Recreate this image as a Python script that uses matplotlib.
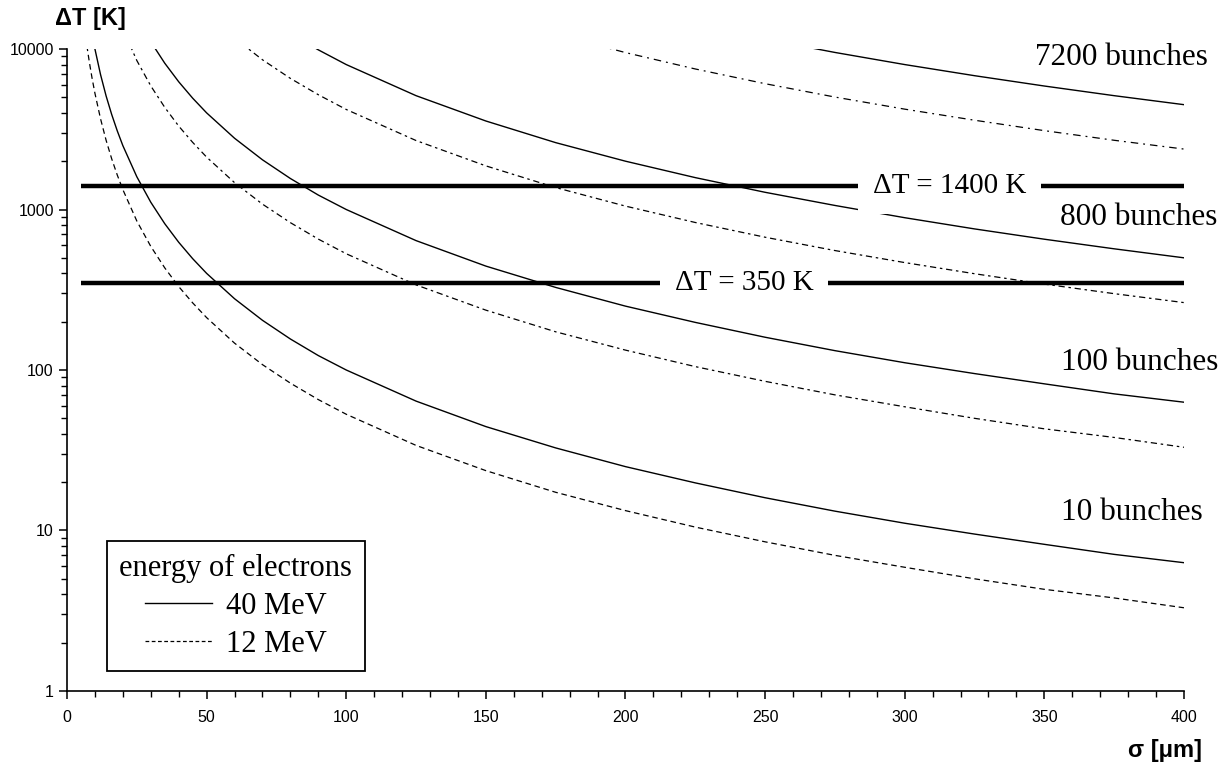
"""Temperature rise vs. beam size for different bunch trains (40 / 12 MeV)."""
import numpy as np
import matplotlib
matplotlib.use("Agg")
import matplotlib.pyplot as plt
from matplotlib.lines import Line2D
from matplotlib.ticker import MultipleLocator, LogLocator, NullFormatter

nan = float("nan")

# beam size sigma [um], shared grid for all curves
sigma_um = [5, 6, 7, 8, 9, 10, 12, 14, 16, 18, 20, 25, 30, 35, 40, 45, 50,
            60, 70, 80, 90, 100, 125, 150, 175, 200, 225, 250, 275, 300,
            325, 350, 375, 400]

# delta T [K], 40 MeV electrons
dt40_10 = [40000, 27800, 20400, 15600, 12300, 10000, 6940, 5100, 3910, 3090,
           2500, 1600, 1110, 816, 625, 494, 400, 278, 204, 156, 123, 100,
           64, 44.4, 32.7, 25, 19.8, 16, 13.2, 11.1, 9.5, 8.2, 7.1, 6.3]
dt40_100 = [nan, nan, nan, nan, nan, nan, nan, nan, 39100, 30900,
            25000, 16000, 11100, 8160, 6250, 4940, 4000, 2780, 2040, 1560,
            1230, 1000, 640, 444, 327, 250, 198, 160, 132, 111, 95, 82, 71, 63]
dt40_800 = [nan, nan, nan, nan, nan, nan, nan, nan, nan, nan,
            nan, nan, nan, nan, 50000, 39500, 32000, 22200, 16300, 12500,
            9880, 8000, 5120, 3560, 2610, 2000, 1580, 1280, 1060, 889,
            757, 653, 569, 500]
dt40_7200 = [nan, nan, nan, nan, nan, nan, nan, nan, nan, nan,
             nan, nan, nan, nan, nan, nan, nan, nan, nan, nan,
             nan, nan, nan, nan, nan, 18000, 14200, 11520, 9520, 8000,
             6820, 5880, 5120, 4500]

# delta T [K], 12 MeV electrons
dt12_10 = [21200, 14700, 10800, 8280, 6540, 5300, 3680, 2700, 2070, 1640,
           1330, 848, 589, 433, 331, 262, 212, 147, 108, 82.8, 65.4, 53,
           33.9, 23.6, 17.3, 13.3, 10.5, 8.5, 7.0, 5.9, 5.0, 4.3, 3.8, 3.3]
dt12_100 = [nan, nan, nan, nan, nan, nan, 36800, 27000, 20700, 16400,
            13300, 8480, 5890, 4330, 3310, 2620, 2120, 1470, 1080, 828,
            654, 530, 339, 236, 173, 133, 105, 85, 70, 59, 50, 43, 38, 33]
dt12_800 = [nan, nan, nan, nan, nan, nan, nan, nan, nan, nan,
            nan, nan, 46700, 34300, 26300, 20700, 16800, 11700, 8570, 6560,
            5190, 4200, 2690, 1870, 1370, 1050, 830, 672, 555, 467,
            398, 343, 299, 263]
dt12_7200 = [nan, nan, nan, nan, nan, nan, nan, nan, nan, nan,
             nan, nan, nan, nan, nan, nan, nan, nan, nan, nan,
             nan, nan, nan, 16900, 12400, 9500, 7510, 6080, 5020, 4220,
             3600, 3100, 2700, 2380]

limits_K = [1400, 350]
limit_labels = ["\u0394T = 1400 K", "\u0394T = 350 K"]
limit_label_x = [316, 242.5]

bunch_labels = ["7200 bunches", "800 bunches", "100 bunches", "10 bunches"]
bunch_label_x = [346.5, 355.5, 356, 356]
bunch_label_y = [8900, 898, 112, 12.9]

serif = "Liberation Serif"
sans = "Liberation Sans"

fig = plt.figure(figsize=(12.25, 7.67), dpi=100)
ax = fig.add_axes([0.0547, 0.0991, 0.9118, 0.8370])

x = np.array(sigma_um, dtype=float)
for y in (dt40_10, dt40_100, dt40_800, dt40_7200):
    ax.plot(x, np.array(y, dtype=float), color="black", lw=1.0)
ax.plot(x, np.array(dt12_10, dtype=float), color="black", lw=0.9,
        linestyle=(0, (4.5, 3)))
for y in (dt12_100, dt12_800):
    ax.plot(x, np.array(y, dtype=float), color="black", lw=0.9,
            linestyle=(0, (5, 3, 2, 3)))
ax.plot(x, np.array(dt12_7200, dtype=float), color="black", lw=0.9,
        linestyle=(0, (6, 4, 1.5, 4)))

# temperature limits
for lim, lab, lx in zip(limits_K, limit_labels, limit_label_x):
    ax.hlines(lim, 5, 400, color="black", lw=3.2, zorder=3)
    ax.text(lx, lim, lab, family=serif, fontsize=21, ha="center", va="center",
            zorder=4, bbox=dict(boxstyle="square,pad=0.5", fc="white", ec="none"))

for lab, lx, ly in zip(bunch_labels, bunch_label_x, bunch_label_y):
    ax.text(lx, ly, lab, family=serif, fontsize=22.5, ha="left", va="center",
            clip_on=False, zorder=4)

ax.set_yscale("log")
ax.set_xlim(0, 400)
ax.set_ylim(1, 10000)
ax.xaxis.set_major_locator(MultipleLocator(50))
ax.xaxis.set_minor_locator(MultipleLocator(10))
ax.yaxis.set_minor_locator(LogLocator(base=10, subs=np.arange(2, 10)))
ax.yaxis.set_minor_formatter(NullFormatter())
ax.set_yticks([1, 10, 100, 1000, 10000])
ax.set_yticklabels(["1", "10", "100", "1000", "10000"])

for s in ("top", "right"):
    ax.spines[s].set_visible(False)
for s in ("left", "bottom"):
    ax.spines[s].set_linewidth(1.2)
ax.tick_params(which="major", length=6, width=1.1, labelsize=11.5)
ax.tick_params(which="minor", length=4, width=1.0)
for t in ax.get_xticklabels() + ax.get_yticklabels():
    t.set_family(sans)
ax.tick_params(axis="x", pad=8)

fig.text(0.0735, 0.9765, "\u0394T [K]", family=sans, fontsize=17,
         fontweight="bold", ha="center", va="center")
fig.text(0.951, 0.022, "\u03c3 [\u03bcm]", family=sans, fontsize=17,
         fontweight="bold", ha="center", va="center")

handles = [Line2D([], [], color="black", lw=1.0),
           Line2D([], [], color="black", lw=0.9, linestyle=(0, (3, 2)))]
leg = ax.legend(handles, ["40 MeV", "12 MeV"], title="energy of electrons",
                loc="lower left", bbox_to_anchor=(0.036, 0.031),
                borderaxespad=0, fancybox=False, framealpha=1,
                edgecolor="black", prop={"family": serif, "size": 22},
                title_fontproperties={"family": serif, "size": 22},
                handlelength=2.2, handletextpad=0.45, labelspacing=0.3,
                borderpad=0.4)
leg.get_frame().set_linewidth(1.3)

fig.savefig("out.png", dpi=100)
